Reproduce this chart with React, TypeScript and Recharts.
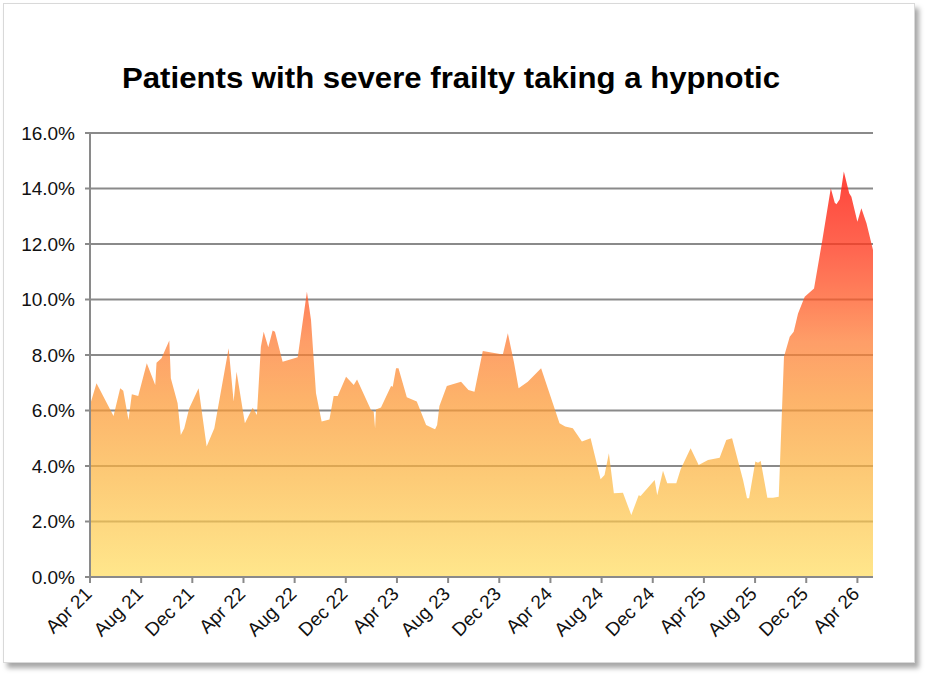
import { AreaChart, Area, XAxis, YAxis, CartesianGrid } from "recharts";

// months since Apr 2021 for each point
const monthOffsets = [
  0, 0.51, 1.84, 2.36, 2.6, 3.01, 3.27, 3.77, 4.44, 5.1,
  5.2, 5.59, 6.2, 6.32, 6.85, 7.1, 7.37, 7.76, 8.49, 9.12,
  9.72, 10.84, 11.23, 11.46, 12.11, 12.72, 13.05, 13.36, 13.58, 13.94,
  14.28, 14.46, 15.06, 16.24, 16.96, 17.28, 17.67, 18.11, 18.72, 19.05,
  19.37, 20.02, 20.46, 20.62, 20.88, 21.97, 22.18, 22.29, 22.36, 22.75,
  23.54, 23.67, 23.93, 24.12, 24.77, 25.55, 26.28, 26.8, 26.98, 27.14,
  27.32, 27.9, 29.01, 29.59, 30.06, 30.71, 32.28, 32.67, 33.14, 33.51,
  34.23, 35.27, 36.71, 37.15, 37.75, 38.46, 39.14, 39.92, 40.23, 40.57,
  40.96, 41.67, 42.32, 42.9, 43.05, 44.15, 44.35, 44.8, 45.13, 45.84,
  46.18, 46.96, 47.59, 48.32, 49.23, 49.75, 50.2, 51.06, 51.37, 51.53,
  52.02, 52.23, 52.44, 52.96, 53.4, 53.85, 54.26, 54.71, 55.02, 55.36,
  55.88, 56.61, 57.26, 57.92, 58.23, 58.36, 58.62, 58.94, 59.36, 59.53,
  60.0, 60.31, 60.71, 61.22,
];

// percent of patients
const percentValues = [
  6.2, 6.98, 5.8, 6.8, 6.71, 5.66, 6.59, 6.52, 7.7, 6.92,
  7.72, 7.88, 8.52, 7.16, 6.26, 5.12, 5.36, 6.08, 6.8, 4.7,
  5.36, 8.24, 6.32, 7.4, 5.54, 6.1, 5.84, 8.3, 8.84, 8.28,
  8.88, 8.84, 7.76, 7.92, 10.28, 9.26, 6.62, 5.6, 5.68, 6.52,
  6.52, 7.22, 7.0, 6.92, 7.12, 6.02, 5.96, 5.36, 6.04, 6.11,
  6.88, 6.86, 7.52, 7.52, 6.48, 6.32, 5.48, 5.36, 5.32, 5.48,
  6.16, 6.88, 7.04, 6.74, 6.68, 8.14, 8.02, 8.78, 7.76, 6.8,
  7.04, 7.52, 5.54, 5.42, 5.36, 4.88, 5.0, 3.52, 3.68, 4.46,
  3.02, 3.04, 2.23, 2.95, 2.92, 3.5, 2.95, 3.83, 3.38, 3.38,
  3.88, 4.64, 4.04, 4.22, 4.3, 4.94, 5.0, 3.5, 2.84, 2.84,
  4.16, 4.12, 4.18, 2.86, 2.86, 2.89, 7.94, 8.66, 8.84, 9.5,
  10.1, 10.4, 12.14, 14.01, 13.49, 13.43, 13.61, 14.61, 13.83, 13.7,
  12.8, 13.29, 12.75, 11.78,
];

const tickLabels = [
  "Apr 21", "Aug 21", "Dec 21", "Apr 22", "Aug 22", "Dec 22", "Apr 23", "Aug 23",
  "Dec 23", "Apr 24", "Aug 24", "Dec 24", "Apr 25", "Aug 25", "Dec 25", "Apr 26",
];
const tickMonths = tickLabels.map((_, i) => i * 4);
const yTicks = [0, 2, 4, 6, 8, 10, 12, 14, 16];

const data = monthOffsets.map((m, i) => ({ m, value: percentValues[i] }));

const axisGrey = "#8a8a8a";

function XTick(props: any) {
  const { x, y, payload } = props;
  const label = tickLabels[Math.round(payload.value / 4)];
  return (
    <g transform={`translate(${x + 3},${y + 10}) rotate(-45)`}>
      <text
        x={0}
        y={0}
        textAnchor="end"
        fontSize={19}
        fontFamily="Liberation Sans, Arial, sans-serif"
        fill="#111"
      >
        {label}
      </text>
    </g>
  );
}

export default function App() {
  return (
    <div style={{ position: "absolute", left: 0, top: 0, width: 925, height: 674, background: "#fff" }}>
      <div
        style={{
          position: "absolute",
          left: 3,
          top: 3,
          width: 910,
          height: 658,
          border: "1px solid #d9d9d9",
          boxShadow: "4px 5px 5px rgba(0,0,0,0.35)",
          background: "#fff",
        }}
      />
      <svg width={925} height={120} style={{ position: "absolute", left: 0, top: 0 }}>
        <text
          x={451}
          y={88}
          textAnchor="middle"
          fontSize={30}
          fontWeight="bold"
          fontFamily="Liberation Sans, Arial, sans-serif"
          textLength={658}
          lengthAdjust="spacingAndGlyphs"
          fill="#000"
        >
          Patients with severe frailty taking a hypnotic
        </text>
      </svg>
      <div style={{ position: "absolute", left: 0, top: 0 }}>
        <AreaChart
          width={925}
          height={674}
          data={data}
          margin={{ top: 133, right: 52, bottom: 37, left: 10 }}
        >
          <defs>
            <linearGradient id="frailFill" x1="0" y1="0" x2="0" y2="1">
              <stop offset="0" stopColor="#ff1a10" stopOpacity={0.82} />
              <stop offset="0.2" stopColor="#ff3d20" stopOpacity={0.78} />
              <stop offset="0.32" stopColor="#ff5a25" stopOpacity={0.75} />
              <stop offset="0.42" stopColor="#fe7a30" stopOpacity={0.73} />
              <stop offset="0.56" stopColor="#fc9530" stopOpacity={0.72} />
              <stop offset="0.74" stopColor="#fcb440" stopOpacity={0.72} />
              <stop offset="1" stopColor="#ffdc5a" stopOpacity={0.7} />
            </linearGradient>
          </defs>
          <CartesianGrid vertical={false} stroke={axisGrey} strokeWidth={2} />
          <XAxis
            dataKey="m"
            type="number"
            domain={[0, 61.22]}
            ticks={tickMonths}
            interval={0}
            height={60}
            stroke={axisGrey}
            strokeWidth={2}
            tickSize={6}
            tickMargin={2}
            tick={<XTick />}
            allowDataOverflow
          />
          <YAxis
            type="number"
            domain={[0, 16]}
            ticks={yTicks}
            interval={0}
            width={80}
            stroke={axisGrey}
            strokeWidth={2}
            tickSize={5}
            tickMargin={10}
            tickFormatter={(v: number) => `${v.toFixed(1)}%`}
            tick={{ fontSize: 19, fill: "#111", fontFamily: "Liberation Sans, Arial, sans-serif" }}
          />
          <Area
            type="linear"
            dataKey="value"
            stroke="none"
            fill="url(#frailFill)"
            fillOpacity={1}
            isAnimationActive={false}
          />
        </AreaChart>
      </div>
    </div>
  );
}
